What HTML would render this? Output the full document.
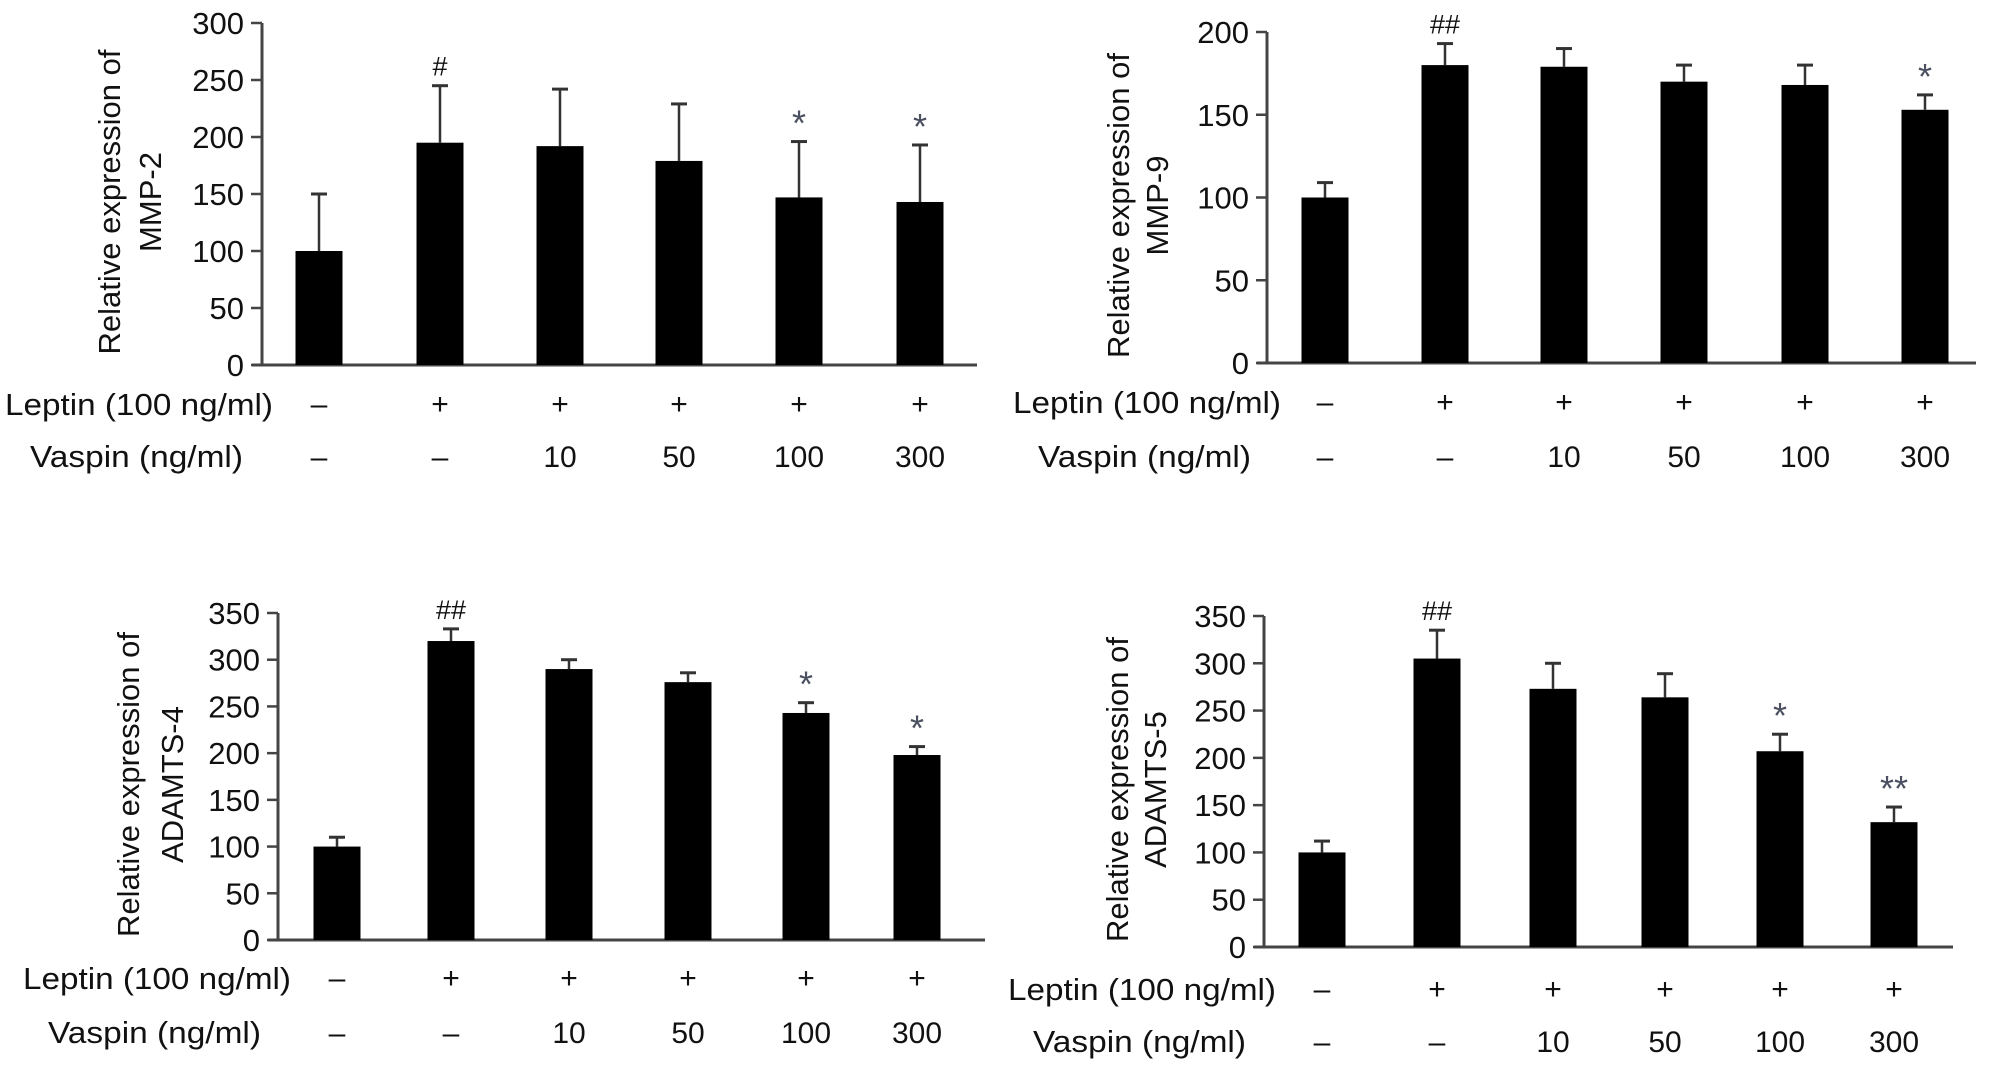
<!DOCTYPE html>
<html><head><meta charset="utf-8"><style>
html,body{margin:0;padding:0;background:#fff;}
svg{display:block;font-family:"Liberation Sans",sans-serif;}
</style></head><body>
<svg id="fig" width="1995" height="1066" viewBox="0 0 1995 1066"></svg>
<script>
const leptinLabels = ["–","+","+","+","+","+"];
const vaspinLabels = ["–","–","10","50","100","300"];
const mmp2Values = [100,195,192,179,147,143];
const mmp2Errors = [50,50,50,50,49,50];
const mmp2Marks = ["","#","","","*","*"];
const mmp2Ticks = [0,50,100,150,200,250,300];
const mmp9Values = [100,180,179,170,168,153];
const mmp9Errors = [9,13,11,10,12,9];
const mmp9Marks = ["","##","","","","*"];
const mmp9Ticks = [0,50,100,150,200];
const adamts4Values = [100,320,290,276,243,198];
const adamts4Errors = [10,13,10,10,11,9];
const adamts4Marks = ["","##","","","*","*"];
const adamts4Ticks = [0,50,100,150,200,250,300,350];
const adamts5Values = [100,305,273,264,207,132];
const adamts5Errors = [12,30,27,25,18,16];
const adamts5Marks = ["","##","","","*","**"];
const adamts5Ticks = [0,50,100,150,200,250,300,350];

const NS="http://www.w3.org/2000/svg";
const svg=document.getElementById('fig');
function mk(tag,attrs,parent,text){const e=document.createElementNS(NS,tag);for(const k in attrs)e.setAttribute(k,attrs[k]);if(text!==undefined)e.textContent=text;(parent||svg).appendChild(e);return e;}

function panel(p){
  const g=mk('g',{});
  
  
  const max=p.ticks[p.ticks.length-1];
  const y=v=>p.y0-(p.y0-p.yTop)*v/max;
  const ax=mk('line',{x1:p.ax,y1:p.yTop,x2:p.ax,y2:p.y0+1,stroke:'#444','stroke-width':3},g);
  
  
  const bx=mk('line',{x1:p.ax-10,y1:p.y0,x2:p.right,y2:p.y0,stroke:'#444','stroke-width':3},g);
  
  
  p.ticks.forEach(t=>{
    const tk=mk('line',{x1:p.ax-11,y1:y(t),x2:p.ax,y2:y(t),stroke:'#444','stroke-width':2.5},g);
    
    
    const tl=mk('text',{x:p.ax-18,y:y(t)+11,'text-anchor':'end','font-size':31,fill:'#111'},g,String(t));
    
    
  });
  const tm=(p.y0+p.yTop)/2+8;
  const t1=mk('text',{x:0,y:0,transform:`translate(${p.tx1+11},${tm}) rotate(-90)`,'text-anchor':'middle','font-size':31,fill:'#111'},g,'Relative expression of');
  
  
  const t2=mk('text',{x:0,y:0,transform:`translate(${p.tx2+11},${tm}) rotate(-90)`,'text-anchor':'middle','font-size':31,fill:'#111'},g,p.gene);
  
  
  const bw=47;
  p.values.forEach((v,i)=>{
    const cx=p.centers[i];
    const top=y(v+p.errors[i]);
    const el=mk('line',{x1:cx,y1:y(v),x2:cx,y2:top,stroke:'#333','stroke-width':2.5},g);
    
    
    const ec=mk('line',{x1:cx-8,y1:top,x2:cx+8,y2:top,stroke:'#333','stroke-width':3},g);
    
    
    const r=mk('rect',{x:cx-bw/2,y:y(v),width:bw,height:p.y0-y(v),fill:'#000'},g);
    
    
    if(p.marks[i]){
      const star=p.marks[i].indexOf('*')>=0;
      const m=mk('text',{x:cx,y:star?top-6:top-10,'text-anchor':'middle','font-size':star?36:27,fill:star?'#4a5060':'#111'},g,p.marks[i]);
      
      
    }
    const l=mk('text',{x:cx,y:p.ly+10,'text-anchor':'middle','font-size':30,fill:'#111'},g,leptinLabels[i]);
    
    
    const vl=mk('text',{x:cx,y:p.vy+11,'text-anchor':'middle','font-size':30,fill:'#111'},g,vaspinLabels[i]);
    
    
  });
  const lr=mk('text',{x:p.lx,y:p.ly+11,'font-size':31,fill:'#111',textLength:268,lengthAdjust:'spacingAndGlyphs'},g,'Leptin (100 ng/ml)');
  
  
  const vr=mk('text',{x:p.lx+25,y:p.vy+11,'font-size':31,fill:'#111',textLength:213,lengthAdjust:'spacingAndGlyphs'},g,'Vaspin (ng/ml)');
  
  
}

panel({name:'mmp2-chart',gene:'MMP-2',values:mmp2Values,errors:mmp2Errors,marks:mmp2Marks,ticks:mmp2Ticks,
  ax:262,right:977,y0:365,yTop:23,centers:[319,440,560,679,799,920],ly:404,vy:456,lx:5,tx1:109,tx2:150});
panel({name:'mmp9-chart',gene:'MMP-9',values:mmp9Values,errors:mmp9Errors,marks:mmp9Marks,ticks:mmp9Ticks,
  ax:1267,right:1976,y0:363,yTop:32,centers:[1325,1445,1564,1684,1805,1925],ly:402,vy:456,lx:1013,tx1:1118,tx2:1157});
panel({name:'adamts4-chart',gene:'ADAMTS-4',values:adamts4Values,errors:adamts4Errors,marks:adamts4Marks,ticks:adamts4Ticks,
  ax:278,right:985,y0:940,yTop:613,centers:[337,451,569,688,806,917],ly:978,vy:1032,lx:23,tx1:128,tx2:172});
panel({name:'adamts5-chart',gene:'ADAMTS-5',values:adamts5Values,errors:adamts5Errors,marks:adamts5Marks,ticks:adamts5Ticks,
  ax:1264,right:1953,y0:947,yTop:616,centers:[1322,1437,1553,1665,1780,1894],ly:989,vy:1041,lx:1008,tx1:1117,tx2:1155});
</script>
</body></html>
